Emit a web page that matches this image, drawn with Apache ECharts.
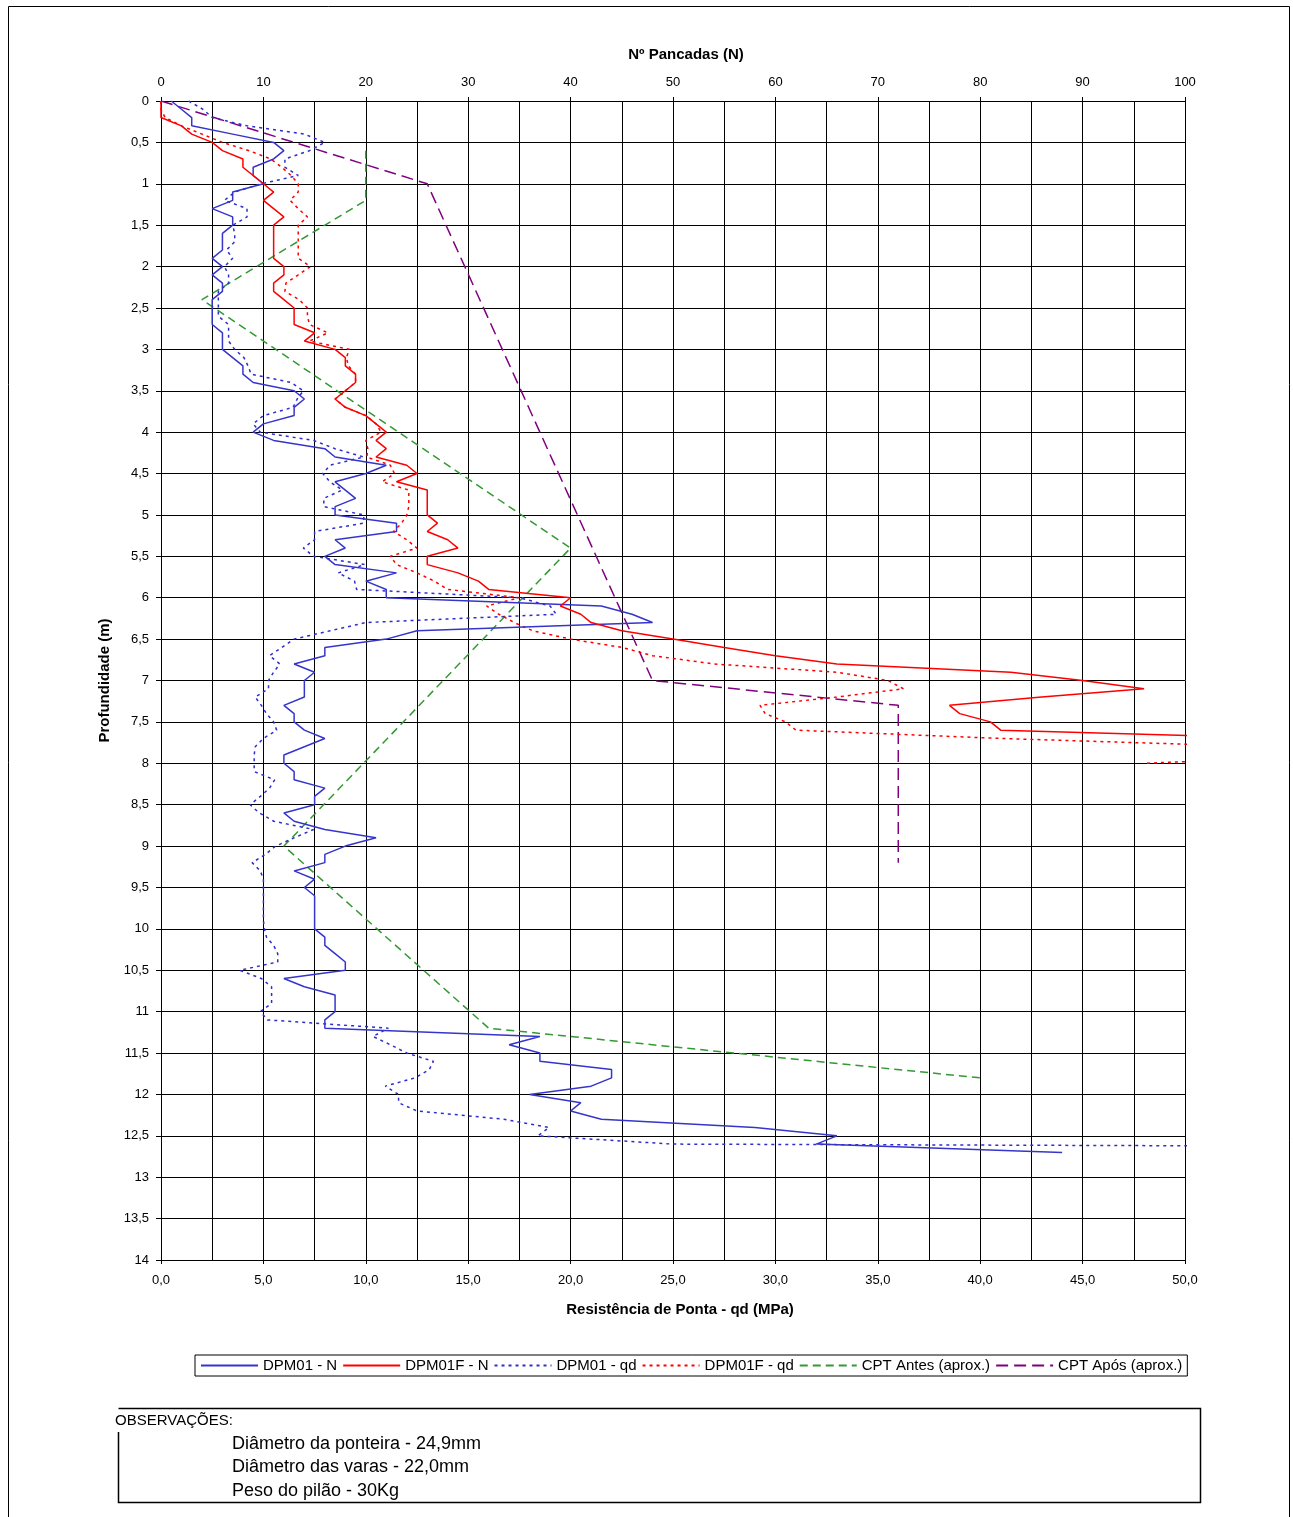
<!DOCTYPE html>
<html><head><meta charset="utf-8">
<script src="https://cdn.jsdelivr.net/npm/echarts@6/dist/echarts.min.js"></script>
<style>html,body{margin:0;padding:0;background:#fff}#c{width:1293px;height:1517px}</style>
</head><body><div id="c"></div>
<script>
// Depths (m) of the DPM readings
const depthDPM01 = [
 0,0.1,0.2,0.3,0.4,0.5,0.6,0.7,0.8,0.9,
 1,1.1,1.2,1.3,1.4,1.5,1.6,1.7,1.8,1.9,
 2,2.1,2.2,2.3,2.4,2.5,2.6,2.7,2.8,2.9,
 3,3.1,3.2,3.3,3.4,3.5,3.6,3.7,3.8,3.9,
 4,4.1,4.2,4.3,4.4,4.5,4.6,4.7,4.8,4.9,
 5,5.1,5.2,5.3,5.4,5.5,5.6,5.7,5.8,5.9,
 6,6.1,6.2,6.3,6.4,6.5,6.6,6.7,6.8,6.9,
 7,7.1,7.2,7.3,7.4,7.5,7.6,7.7,7.8,7.9,
 8,8.1,8.2,8.3,8.4,8.5,8.6,8.7,8.8,8.9,
 9,9.1,9.2,9.3,9.4,9.5,9.6,9.7,9.8,9.9,
 10,10.1,10.2,10.3,10.4,10.5,10.6,10.7,10.8,10.9,
 11,11.1,11.2,11.3,11.4,11.5,11.6,11.7,11.8,11.9,
 12,12.1,12.2,12.3,12.4,12.5,12.6,12.7
];
const depthDPM01F_N = [
 0,0.1,0.2,0.3,0.4,0.5,0.6,0.7,0.8,0.9,
 1,1.1,1.2,1.3,1.4,1.5,1.6,1.7,1.8,1.9,
 2,2.1,2.2,2.3,2.4,2.5,2.6,2.7,2.8,2.9,
 3,3.1,3.2,3.3,3.4,3.5,3.6,3.7,3.8,3.9,
 4,4.1,4.2,4.3,4.4,4.5,4.6,4.7,4.8,4.9,
 5,5.1,5.2,5.3,5.4,5.5,5.6,5.7,5.8,5.9,
 6,6.1,6.2,6.3,6.4,6.5,6.6,6.7,6.8,6.9,
 7,7.1,7.2,7.3,7.4,7.5,7.6,7.7
];
const depthDPM01F_qd = [
 0,0.1,0.2,0.3,0.4,0.5,0.6,0.7,0.8,0.9,
 1,1.1,1.2,1.3,1.4,1.5,1.6,1.7,1.8,1.9,
 2,2.1,2.2,2.3,2.4,2.5,2.6,2.7,2.8,2.9,
 3,3.1,3.2,3.3,3.4,3.5,3.6,3.7,3.8,3.9,
 4,4.1,4.2,4.3,4.4,4.5,4.6,4.7,4.8,4.9,
 5,5.1,5.2,5.3,5.4,5.5,5.6,5.7,5.8,5.9,
 6,6.1,6.2,6.3,6.4,6.5,6.6,6.7,6.8,6.9,
 7,7.1,7.2,7.3,7.4,7.5,7.6,7.7,7.8,7.9,
 8
];

// Nº de pancadas (N)
const dpm01N = [
 1,2,3,3,7,11,12,11,9,9,
 10,7,7,5,7,7,6,6,6,5,
 6,5,6,6,5,5,5,5,6,6,
 6,7,8,8,9,13,14,13,13,10,
 9,11,16,17,22,20,17,18,19,17,
 17,23,23,17,18,16,17,23,20,22,
 22,43,46,48,25,22,16,16,13,15,
 14,14,14,12,13,13,14,16,14,12,
 12,13,13,16,15,15,12,13,16,21,
 18,16,16,13,15,14,15,15,15,15,
 15,16,16,17,18,18,12,14,17,17,
 17,16,16,37,34,37,37,44,44,42,
 36,41,40,43,58,66,64,88
];
const dpm01fN = [
 0,0,0,2,3,5,6,8,8,9,
 10,11,10,11,12,11,11,11,11,11,
 12,12,11,11,12,13,13,13,15,14,
 17,18,18,19,19,18,17,18,20,21,
 22,21,22,21,24,25,23,26,26,26,
 26,27,26,28,29,26,26,29,31,32,
 40,39,41,42,45,50,55,60,66,83,
 90,96,86,77,78,81,82,110
];
// Resistência de ponta qd (MPa)
const dpm01qd = [
 1.35,2.05,2.5,4.2,7.0,8.0,7.25,6.05,6.05,6.7,
 4.9,3.6,3.1,4.2,4.2,3.5,3.6,3.6,3.2,3.5,
 3.1,3.3,3.3,2.8,2.8,2.8,2.8,3.3,3.3,3.3,
 3.6,4.05,4.25,4.4,6.35,6.95,6.65,6.45,5.0,4.5,
 4.85,7.45,8.5,9.9,8.25,7.9,8.25,8.85,7.95,7.95,
 9.9,9.9,7.5,7.5,6.95,7.45,9.95,8.65,9.45,9.55,
 17.5,19.0,19.3,10.0,8.25,6.5,5.9,5.3,5.8,5.5,
 5.25,5.25,4.6,4.9,5.15,5.5,5.65,5.0,4.6,4.55,
 4.55,4.55,5.55,5.3,4.85,4.35,4.8,5.5,7.45,6.5,
 5.6,5.1,4.45,4.85,5.0,5.0,5.0,5.0,5.0,5.0,
 5.05,5.15,5.5,5.7,5.7,3.85,4.9,5.4,5.4,5.4,
 4.85,5.2,11.1,10.35,11.2,12.0,13.3,13.1,12.4,10.95,
 11.6,11.6,12.5,16.75,18.95,18.4,25,150
];
const dpm01fqd = [
 0,0,0.2,1.0,2.0,3.0,4.3,5.35,5.9,6.35,
 6.7,6.7,6.3,6.7,7.15,6.7,6.7,6.7,6.7,6.7,
 7.3,6.7,6.1,6.05,6.75,7.15,7.15,7.25,8.15,7.25,
 9.2,9.05,9.15,9.5,9.5,9.0,8.5,9.0,10.0,10.5,
 10.75,10.0,10.1,10.05,11.2,11.4,10.8,12.1,12.1,12.1,
 12.0,11.75,11.35,12.0,12.5,11.2,11.5,12.5,13.35,14.0,
 17.5,15.9,16.5,17.25,18.15,20,22.5,24,27,33,
 35.5,36.25,33,29.25,29.5,30.5,31,41,54,58,
 48
];
// CPT (aprox.)
const cptAntesDepth = [0.6,1.2,2.4,5.4,9.0,11.2,11.8];
const cptAntesQd    = [10,10,2,20,6,16,40];
const cptAposDepth  = [0,1.0,7.0,7.3,9.2];
const cptAposQd     = [0,13,24,36,36];

// Axis ticks
const qdTicks = {min:0, max:50, interval:5};
const nTicks = {min:0, max:100, interval:10};
const depthTicks = {min:0, max:14, interval:0.5};

const FONT = 'Liberation Sans, Arial, sans-serif';
const pair = (xs, ys) => xs.map((x, i) => [x, ys[i]]);

const chart = echarts.init(document.getElementById('c'), null, {renderer:'canvas'});
const axisLineStyle = {color:'#000', width:1};
const option = {
  animation:false,
  backgroundColor:'#fff',
  textStyle:{fontFamily:FONT},
  grid:{left:161, right:108, top:101, bottom:257, containLabel:false},
  legend:{
    left:195, top:1355, orient:'horizontal',
    itemWidth:57, itemHeight:12, itemGap:5,
    borderColor:'#000', borderWidth:1, padding:[3,5,3,5],
    itemStyle:{color:'rgba(0,0,0,0)', borderColor:'rgba(0,0,0,0)', borderWidth:0, opacity:0},
    textStyle:{fontSize:15, color:'#000', fontFamily:FONT},
    data:['DPM01 - N','DPM01F - N','DPM01 - qd','DPM01F - qd','CPT Antes (aprox.)','CPT Após (aprox.)']
  },
  xAxis:[
    {type:'value', position:'bottom', min:qdTicks.min, max:qdTicks.max, interval:qdTicks.interval,
     axisLine:{show:true, onZero:false, lineStyle:axisLineStyle},
     axisTick:{show:true, length:4, lineStyle:axisLineStyle},
     minorTick:{show:false, splitNumber:2},
     splitLine:{show:true, lineStyle:{color:'#000', width:1}},
     minorSplitLine:{show:true, lineStyle:{color:'#000', width:1}},
     axisLabel:{color:'#000', fontSize:13, fontFamily:FONT, margin:14,
       formatter:v => v.toFixed(1).replace('.', ',')},
     name:'Resistência de Ponta - qd (MPa)', nameLocation:'middle', nameGap:42,
     nameTextStyle:{fontWeight:'bold', fontSize:15, color:'#000', fontFamily:FONT, padding:[0,0,0,14]}},
    {type:'value', position:'top', min:nTicks.min, max:nTicks.max, interval:nTicks.interval,
     axisLine:{show:true, onZero:false, lineStyle:axisLineStyle},
     axisTick:{show:true, length:4, lineStyle:axisLineStyle},
     splitLine:{show:false},
     axisLabel:{color:'#000', fontSize:13, fontFamily:FONT, margin:12},
     name:'Nº Pancadas (N)', nameLocation:'middle', nameGap:39,
     nameTextStyle:{fontWeight:'bold', fontSize:15, color:'#000', fontFamily:FONT, padding:[0,0,0,26]}}
  ],
  yAxis:[
    {type:'value', inverse:true, min:depthTicks.min, max:depthTicks.max, interval:depthTicks.interval,
     axisLine:{show:true, onZero:false, lineStyle:axisLineStyle},
     axisTick:{show:true, length:5, lineStyle:axisLineStyle},
     splitLine:{show:true, lineStyle:{color:'#000', width:1}},
     axisLabel:{color:'#000', fontSize:13, fontFamily:FONT, margin:12,
       formatter:v => String(v).replace('.', ',')},
     name:'Profundidade (m)', nameLocation:'middle', nameGap:44, nameRotate:90,
     nameTextStyle:{fontWeight:'bold', fontSize:15, color:'#000', fontFamily:FONT}}
  ],
  series:[
    {name:'CPT Antes (aprox.)', type:'line', xAxisIndex:0, yAxisIndex:0, symbol:'none',
     data:pair(cptAntesQd, cptAntesDepth),
     lineStyle:{color:'#339933', width:1.5, type:[8,5]}, itemStyle:{color:'#339933'}},
    {name:'CPT Após (aprox.)', type:'line', xAxisIndex:0, yAxisIndex:0, symbol:'none',
     data:pair(cptAposQd, cptAposDepth),
     lineStyle:{color:'#800080', width:1.5, type:[12,6]}, itemStyle:{color:'#800080'}},
    {name:'DPM01 - qd', type:'line', xAxisIndex:0, yAxisIndex:0, symbol:'none',
     data:pair(dpm01qd, depthDPM01),
     lineStyle:{color:'#2E2ECC', width:1.5, type:[3,4]}, itemStyle:{color:'#2E2ECC'}},
    {name:'DPM01F - qd', type:'line', xAxisIndex:0, yAxisIndex:0, symbol:'none',
     data:pair(dpm01fqd, depthDPM01F_qd),
     lineStyle:{color:'#FF0000', width:1.5, type:[3,4]}, itemStyle:{color:'#FF0000'}},
    {name:'DPM01 - N', type:'line', xAxisIndex:1, yAxisIndex:0, symbol:'none',
     data:pair(dpm01N, depthDPM01),
     lineStyle:{color:'#3535CC', width:1.5}, itemStyle:{color:'#3535CC'}},
    {name:'DPM01F - N', type:'line', xAxisIndex:1, yAxisIndex:0, symbol:'none',
     data:pair(dpm01fN, depthDPM01F_N),
     lineStyle:{color:'#FF0000', width:1.5}, itemStyle:{color:'#FF0000'}}
  ],
  graphic:[
    {type:'rect', silent:true, shape:{x:8.5, y:6.5, width:1281, height:1540},
     style:{fill:null, stroke:'#000', lineWidth:1}},
    {type:'polyline', silent:true,
     shape:{points:[[118.5,1432],[118.5,1502.5],[1200.5,1502.5],[1200.5,1408.5],[118.5,1408.5]]},
     style:{fill:null, stroke:'#000', lineWidth:1.5}},
    {type:'text', silent:true, left:115, top:1413,
     style:{text:'OBSERVAÇÕES:', font:'15px ' + FONT, fill:'#000'}},
    {type:'text', silent:true, left:232, top:1435,
     style:{text:'Diâmetro da ponteira - 24,9mm', font:'18px ' + FONT, fill:'#000'}},
    {type:'text', silent:true, left:232, top:1458,
     style:{text:'Diâmetro das varas - 22,0mm', font:'18px ' + FONT, fill:'#000'}},
    {type:'text', silent:true, left:232, top:1482,
     style:{text:'Peso do pilão - 30Kg', font:'18px ' + FONT, fill:'#000'}}
  ]
};
chart.setOption(option);
</script>
</body></html>
